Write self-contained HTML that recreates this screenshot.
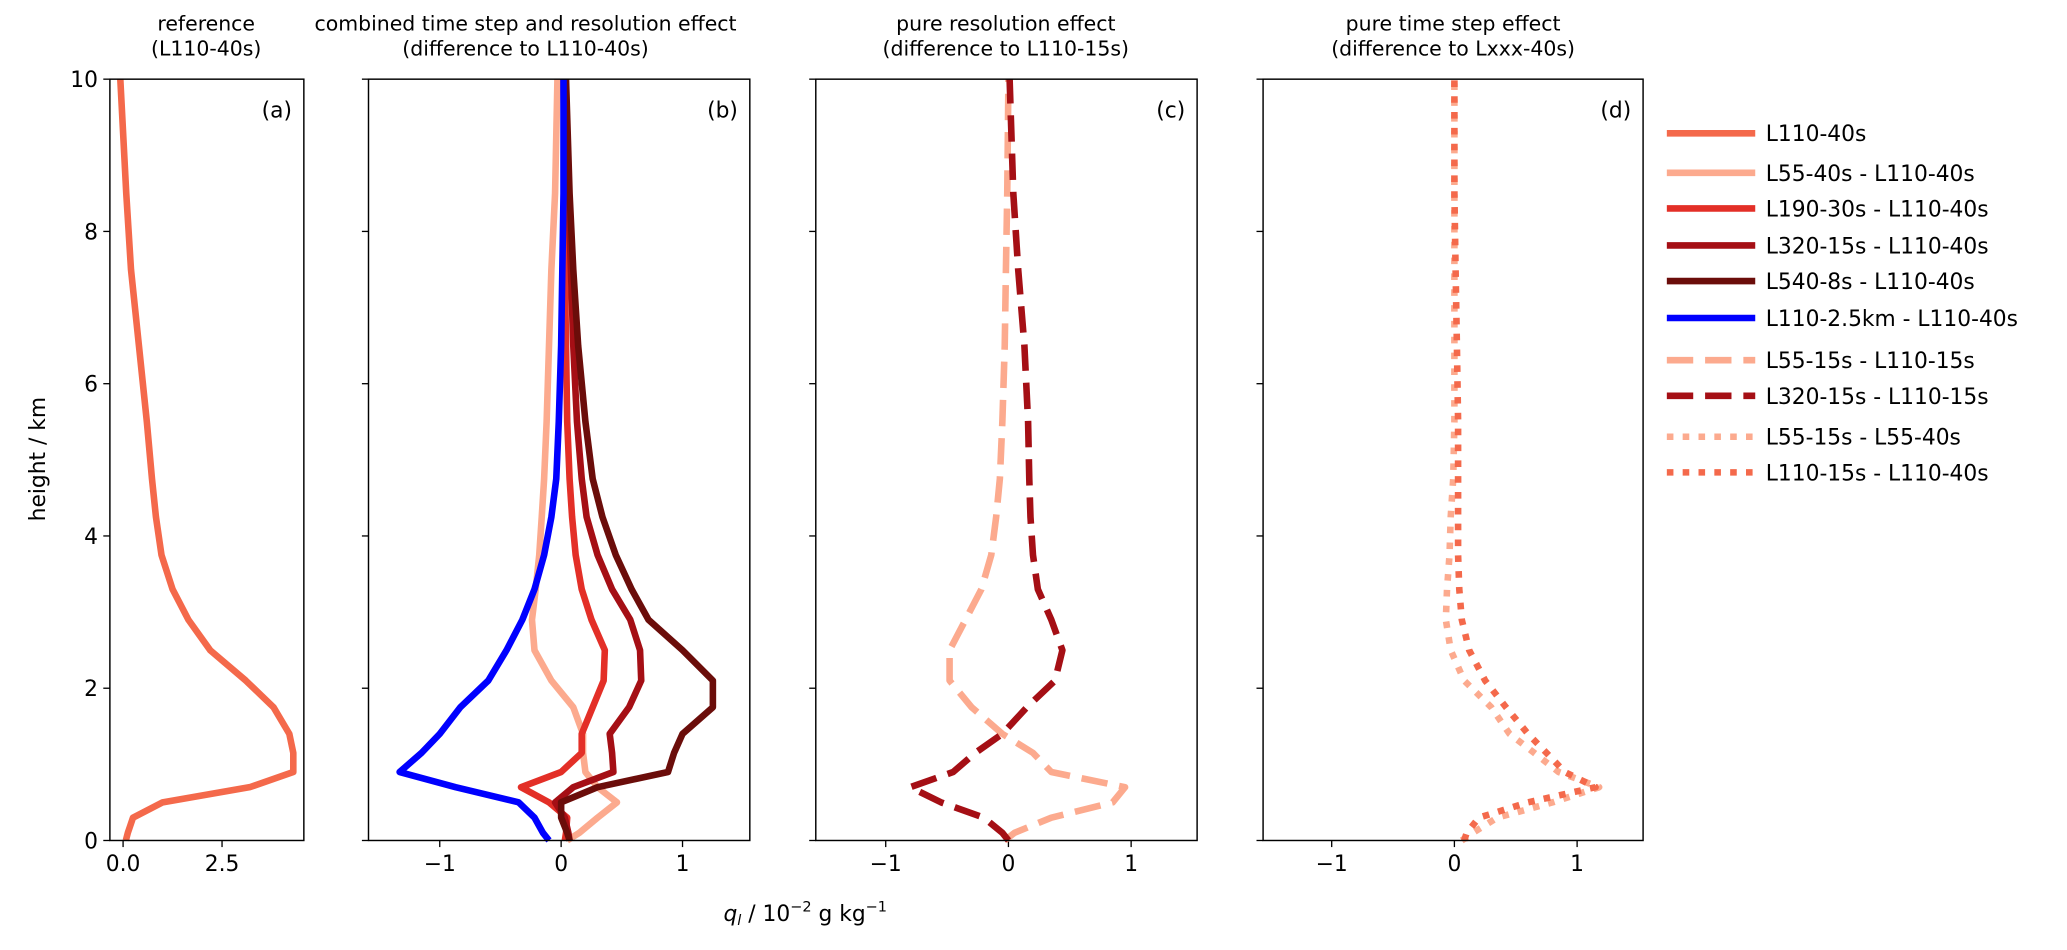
<!DOCTYPE html>
<html><head><meta charset="utf-8"><style>
html,body{margin:0;padding:0;background:#fff;}
svg{display:block;font-family:"DejaVu Sans","Liberation Sans",sans-serif;}
</style></head><body>
<svg id="chart" width="2067" height="950" viewBox="0 0 1566 720" xmlns="http://www.w3.org/2000/svg"></svg>
<script>
// shared heights (km)
const heights = [0,0.1,0.3,0.5,0.7,0.9,1.15,1.4,1.75,2.1,2.5,2.9,3.3,3.75,4.25,4.75,5.5,6.5,7.5,8.5,10];
// panel a
const ref_L110_40s = [0.07,0.12,0.25,1.0,3.2,4.3,4.3,4.2,3.8,3.1,2.2,1.65,1.25,0.97,0.83,0.73,0.6,0.4,0.2,0.08,-0.07];
// panel b
const b_L55_40s = [0.05,0.15,0.3,0.46,0.3,0.2,0.18,0.18,0.1,-0.08,-0.22,-0.24,-0.21,-0.18,-0.16,-0.14,-0.12,-0.1,-0.08,-0.05,-0.03];
const b_L190_30s = [0.03,0.04,0.05,-0.1,-0.33,0.0,0.17,0.17,0.26,0.35,0.36,0.25,0.17,0.12,0.09,0.07,0.05,0.04,0.03,0.03,0.02];
const b_L320_15s = [0.07,0.06,0.03,-0.05,0.1,0.43,0.42,0.4,0.56,0.66,0.65,0.57,0.42,0.3,0.21,0.17,0.13,0.1,0.08,0.06,0.03];
const b_L540_8s = [0.07,0.05,0.0,0.0,0.3,0.88,0.93,1.0,1.25,1.25,1.0,0.72,0.58,0.45,0.34,0.26,0.2,0.14,0.1,0.07,0.04];
const b_L110_25km = [-0.1,-0.15,-0.22,-0.35,-0.87,-1.33,-1.15,-1.0,-0.83,-0.6,-0.45,-0.32,-0.22,-0.14,-0.08,-0.04,-0.02,0,0.01,0.02,0.02];
// panel c
const c_L55_15s = [-0.03,0.05,0.35,0.85,0.95,0.35,0.2,-0.05,-0.3,-0.48,-0.48,-0.35,-0.22,-0.14,-0.1,-0.07,-0.05,-0.03,-0.02,-0.01,0];
const c_L320_15s = [0,-0.05,-0.2,-0.55,-0.8,-0.45,-0.27,-0.05,0.15,0.38,0.44,0.35,0.24,0.2,0.18,0.17,0.16,0.13,0.08,0.04,0.01];
// panel d
const d_L55 = [0.06,0.15,0.35,0.8,1.18,0.85,0.65,0.45,0.3,0.08,-0.03,-0.07,-0.06,-0.04,-0.03,-0.01,0,0,0,0,0];
const d_L110 = [0.08,0.1,0.2,0.6,1.15,0.9,0.75,0.6,0.42,0.25,0.12,0.06,0.04,0.03,0.03,0.03,0.03,0.02,0.01,0,0];
const yTicks = [0,2,4,6,8,10];
const xTicksA = [0,2.5], xTickLabelsA = ["0.0","2.5"];
const xTicksB = [-1,0,1], xTickLabelsB = ["\u22121","0","1"];
const legendLabels = ["L110-40s","L55-40s - L110-40s","L190-30s - L110-40s","L320-15s - L110-40s","L540-8s - L110-40s","L110-2.5km - L110-40s","L55-15s - L110-15s","L320-15s - L110-15s","L55-15s - L55-40s","L110-15s - L110-40s"];

const NS="http://www.w3.org/2000/svg";
const svg=document.getElementById('chart');
const FS=16.5, TFS=15.5;
function mk(tag,attrs,parent){const e=document.createElementNS(NS,tag);for(const k in attrs)e.setAttribute(k,attrs[k]);(parent||svg).appendChild(e);return e;}
const Y0=637,Y1=60;
const yS=h=>Y0+(Y1-Y0)*h/10;
const C={ref:"#f4694b",l55:"#fcaa8e",l190:"#e32f27",l320:"#a50f15",l540:"#6b0d0a",blue:"#0000ff",dref:"#f4694b"};
const panels=[
 {id:'a',x0:83,x1:230,zero:93,k:30,ticks:xTicksA,labels:xTickLabelsA,title:["reference","(L110-40s)"],tx:156},
 {id:'b',x0:279,x1:568,zero:425,k:92,ticks:xTicksB,labels:xTickLabelsB,title:["combined time step and resolution effect","(difference to L110-40s)"],tx:398},
 {id:'c',x0:618,x1:907,zero:764,k:93,ticks:xTicksB,labels:xTickLabelsB,title:["pure resolution effect","(difference to L110-15s)"],tx:762},
 {id:'d',x0:957,x1:1245,zero:1102,k:93,ticks:xTicksB,labels:xTickLabelsB,title:["pure time step effect","(difference to Lxxx-40s)"],tx:1101}
];
function line(p,vals,color,dash,name){
 const d=vals.map((v,i)=>(i?'L':'M')+(p.zero+p.k*v).toFixed(1)+','+yS(heights[i]).toFixed(1)).join(' ');
 const a={d:d,fill:'none',stroke:color,'stroke-width':5,'stroke-linejoin':'round'};
 if(dash){a['stroke-dasharray']=dash;}
 const e=mk('path',a);
 
 
}
panels.forEach((p,pi)=>{
 const g=mk('g',{});
 
 
 const t1=mk('text',{x:p.tx,y:23,'text-anchor':'middle','font-size':TFS},g);t1.textContent=p.title[0];
 const t2=mk('text',{x:p.tx,y:42,'text-anchor':'middle','font-size':TFS},g);t2.textContent=p.title[1];
 
 const pl=mk('text',{x:p.x1-9,y:89,'text-anchor':'end','font-size':FS},g);pl.textContent='('+p.id+')';
 
 yTicks.forEach(v=>{
  mk('line',{x1:p.x0-5,x2:p.x0,y1:yS(v),y2:yS(v),stroke:'#000','stroke-width':1},g);
  if(pi===0){const t=mk('text',{x:p.x0-9,y:yS(v)+6,'text-anchor':'end','font-size':FS},g);t.textContent=v;
   }
 });
 p.ticks.forEach((v,i)=>{
  const x=p.zero+p.k*v;
  mk('line',{x1:x,x2:x,y1:Y0,y2:Y0+5,stroke:'#000','stroke-width':1},g);
  const t=mk('text',{x:x,y:Y0+23,'text-anchor':'middle','font-size':FS},g);t.textContent=p.labels[i];
  
 });
});
const P=panels;
line(P[0],ref_L110_40s,C.ref,null,'line-L110-40s');
line(P[1],b_L55_40s,C.l55,null,'line-L55-40s-diff');
line(P[1],b_L190_30s,C.l190,null,'line-L190-30s-diff');
line(P[1],b_L320_15s,C.l320,null,'line-L320-15s-diff');
line(P[1],b_L540_8s,C.l540,null,'line-L540-8s-diff');
line(P[1],b_L110_25km,C.blue,null,'line-L110-2.5km-diff');
line(P[2],c_L55_15s,C.l55,'20,9','line-L55-15s-res');
line(P[2],c_L320_15s,C.l320,'20,9','line-L320-15s-res');
line(P[3],d_L55,C.l55,'5,7','line-L55-timestep');
line(P[3],d_L110,C.dref,'5,7','line-L110-timestep');
panels.forEach(p=>{mk('rect',{x:p.x0,y:Y1,width:p.x1-p.x0,height:Y0-Y1,fill:'none',stroke:'#000','stroke-width':1.1});});
const yl=mk('text',{x:0,y:0,transform:'translate(34,348) rotate(-90)','text-anchor':'middle','font-size':FS});yl.textContent='height / km';

const xl=mk('text',{x:610,y:698,'text-anchor':'middle','font-size':FS});
xl.innerHTML='<tspan font-style="italic">q</tspan><tspan font-style="italic" font-size="11" dy="3">l</tspan><tspan dy="-3"> / 10</tspan><tspan font-size="11" dy="-7">\u22122</tspan><tspan dy="7"> g kg</tspan><tspan font-size="11" dy="-7">\u22121</tspan>';

const legColors=[C.ref,C.l55,C.l190,C.l320,C.l540,C.blue,C.l55,C.l320,C.l55,C.dref];
const legDash=[null,null,null,null,null,null,'20,9','20,9','5,7','5,7'];
const legY=[101,131,158,186,213,241,273,300,331,358];
const lg=mk('g',{});


legendLabels.forEach((s,i)=>{
 const a={x1:1263,x2:1330,y1:legY[i],y2:legY[i],stroke:legColors[i],'stroke-width':5};
 if(legDash[i])a['stroke-dasharray']=legDash[i];
 const ln=mk('line',a,lg);
 
 
 const t=mk('text',{x:1338,y:legY[i]+6,'font-size':FS},lg);t.textContent=s;
 
 
});
</script>
</body></html>
